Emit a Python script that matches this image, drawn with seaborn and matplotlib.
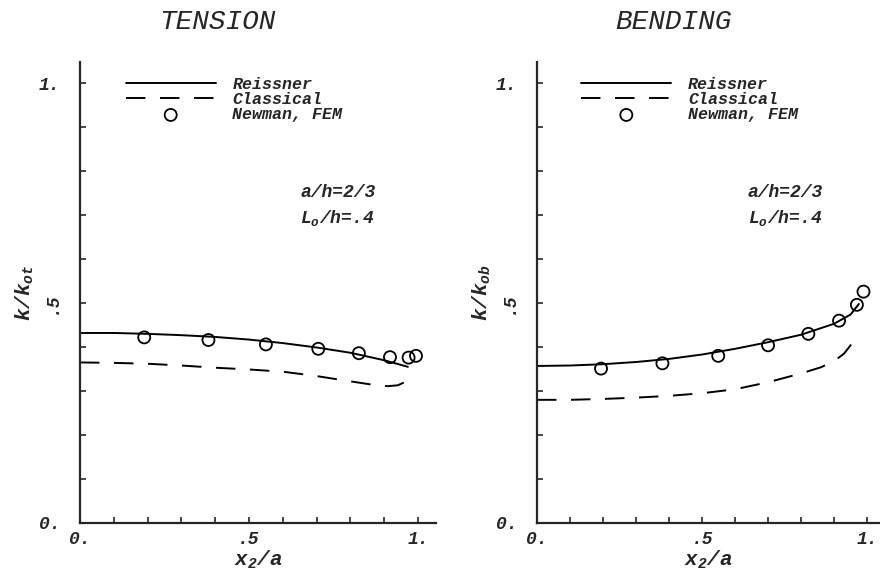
import matplotlib
matplotlib.use("Agg")
import matplotlib.pyplot as plt
from matplotlib.ticker import MultipleLocator, FixedLocator
import seaborn as sns

tension_reissner_x = [0, 0.1, 0.2, 0.3, 0.4, 0.5, 0.6, 0.7, 0.8, 0.9, 0.97]
tension_reissner_y = [0.432, 0.432, 0.430, 0.427, 0.423, 0.417, 0.409, 0.399, 0.387, 0.370, 0.355]
tension_classical_x = [0, 0.1, 0.2, 0.3, 0.4, 0.5, 0.6, 0.7, 0.8, 0.86, 0.91, 0.94, 0.96, 0.976]
tension_classical_y = [0.365, 0.364, 0.362, 0.358, 0.353, 0.349, 0.344, 0.334, 0.322, 0.315, 0.311, 0.313, 0.320, 0.332]
tension_fem_x = [0.19, 0.38, 0.55, 0.705, 0.825, 0.917, 0.972, 0.994]
tension_fem_y = [0.422, 0.416, 0.406, 0.396, 0.386, 0.377, 0.376, 0.380]

bending_reissner_x = [0, 0.1, 0.2, 0.3, 0.4, 0.5, 0.6, 0.7, 0.8, 0.9, 0.95, 0.975]
bending_reissner_y = [0.357, 0.358, 0.361, 0.366, 0.373, 0.383, 0.396, 0.411, 0.428, 0.453, 0.474, 0.498]
bending_classical_x = [0, 0.1, 0.2, 0.3, 0.4, 0.5, 0.6, 0.7, 0.8, 0.86, 0.9, 0.93, 0.955]
bending_classical_y = [0.280, 0.280, 0.282, 0.285, 0.289, 0.295, 0.304, 0.320, 0.340, 0.354, 0.368, 0.385, 0.409]
bending_fem_x = [0.194, 0.38, 0.549, 0.70, 0.822, 0.915, 0.969, 0.989]
bending_fem_y = [0.351, 0.363, 0.380, 0.404, 0.430, 0.460, 0.496, 0.526]

panel_titles = ["TENSION", "BENDING"]
y_labels = ["$k/k_{ot}$", "$k/k_{ob}$"]
x_label = "$x_2/a$"
legend_labels = ["Reissner", "Classical", "Newman, FEM"]
note_lines = ["a/h=2/3", "$L_o$/h=.4"]
tick_vals = [0, 0.5, 1.0]
tick_text = ["0.", ".5", "1."]

sns.set_style("ticks")
plt.rcParams['font.family'] = ['Liberation Mono', 'DejaVu Sans']
plt.rcParams['font.style'] = 'italic'
plt.rcParams['font.weight'] = 'bold'
plt.rcParams['mathtext.fontset'] = 'custom'
plt.rcParams['mathtext.rm'] = 'Liberation Mono:italic:bold'
plt.rcParams['mathtext.it'] = 'Liberation Mono:italic:bold'
plt.rcParams['mathtext.default'] = 'rm'

fig = plt.figure(figsize=(8.8, 5.74), dpi=100)
ax1 = fig.add_axes([0.0909, 0.0889, 0.4045, 0.803])
ax2 = fig.add_axes([0.6102, 0.0889, 0.3898, 0.803])

panels = [
    (ax1, tension_reissner_x, tension_reissner_y, tension_classical_x, tension_classical_y,
     tension_fem_x, tension_fem_y, 1.053, 0.651),
    (ax2, bending_reissner_x, bending_reissner_y, bending_classical_x, bending_classical_y,
     bending_fem_x, bending_fem_y, 1.039, 0.639),
]

for i, (ax, rx, ry, cx, cy, fx, fy, xmax, notex) in enumerate(panels):
    sns.lineplot(x=rx, y=ry, ax=ax, color='black', linewidth=1.4, label=legend_labels[0], sort=False)
    sns.lineplot(x=cx, y=cy, ax=ax, color='black', linewidth=1.4, label=legend_labels[1],
                 sort=False, linestyle=(0, (10, 7.5)))
    sns.scatterplot(x=fx, y=fy, ax=ax, marker='o', s=75, facecolors='none',
                    edgecolors='black', linewidth=1.3, label=legend_labels[2], zorder=3)

    ax.set_xlim(0, xmax)
    ax.set_ylim(0, 1.048)
    ax.xaxis.set_major_locator(FixedLocator(tick_vals))
    ax.yaxis.set_major_locator(FixedLocator(tick_vals))
    ax.set_xticklabels(tick_text)
    ax.set_yticklabels(tick_text)
    ax.get_yticklabels()[1].set_rotation(90)
    ax.get_yticklabels()[1].set_va('center')
    ax.xaxis.set_minor_locator(MultipleLocator(0.1))
    ax.yaxis.set_minor_locator(MultipleLocator(0.1))
    ax.tick_params(which='both', direction='in', length=4, width=1.2, labelsize=13)
    ax.tick_params(axis='y', which='major', pad=14)
    ax.tick_params(axis='x', which='major', pad=6)
    sns.despine(ax=ax)
    for s in ['left', 'bottom']:
        ax.spines[s].set_linewidth(1.6)

    ax.set_xlabel(x_label, fontsize=15, labelpad=0)
    ax.set_ylabel(y_labels[i], fontsize=15, labelpad=2)

    ax.text(notex, 0.741, note_lines[0], fontsize=13)
    ax.text(notex, 0.682, note_lines[1], fontsize=13)

    ax.legend(loc='upper left', bbox_to_anchor=(0.105, 0.985), frameon=False, fontsize=12,
              handlelength=5.4, handletextpad=1.0, labelspacing=0.0, borderpad=0,
              scatterpoints=1)

fig.text(0.247, 0.962, panel_titles[0], fontsize=20, fontweight='normal', ha='center', va='center')
fig.text(0.765, 0.962, panel_titles[1], fontsize=20, fontweight='normal', ha='center', va='center')

fig.savefig("out.png", dpi=100)
